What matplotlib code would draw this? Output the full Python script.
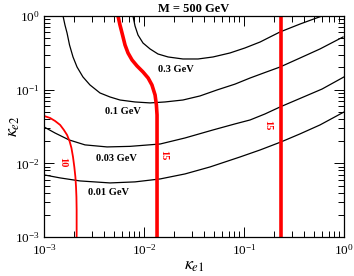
import matplotlib
matplotlib.use("Agg")
import matplotlib.pyplot as plt

# contour values (kappa_e1, kappa_e2)
c001_x = [1.0e-3, 1.45e-3, 2.29e-3, 4.57e-3, 8.13e-3, 1.45e-2, 2.57e-2, 4.57e-2,
          9.12e-2, 0.145, 0.234, 0.363, 0.575, 1.0]
c001_y = [6.97e-3, 6.34e-3, 5.77e-3, 5.42e-3, 5.60e-3, 6.14e-3, 7.18e-3, 8.93e-3,
          1.22e-2, 1.52e-2, 1.95e-2, 2.51e-2, 3.32e-2, 4.98e-2]

c003_x = [1.0e-3, 1.29e-3, 1.78e-3, 2.57e-3, 4.27e-3, 7.24e-3, 1.45e-2, 2.57e-2,
          4.90e-2, 8.13e-2, 0.115, 0.162, 0.229, 0.363, 0.603, 1.0]
c003_y = [3.12e-2, 2.58e-2, 2.08e-2, 1.78e-2, 1.67e-2, 1.70e-2, 1.83e-2, 2.21e-2,
          2.84e-2, 3.43e-2, 3.88e-2, 4.68e-2, 5.82e-2, 7.60e-2, 0.102, 0.149]

c01_x = [1.55e-3, 1.62e-3, 1.70e-3, 1.80e-3, 1.95e-3, 2.14e-3, 2.45e-3, 2.88e-3,
         3.63e-3, 4.57e-3, 5.75e-3, 8.13e-3, 1.15e-2, 1.62e-2, 2.45e-2, 3.63e-2,
         5.37e-2, 8.13e-2, 0.115, 0.162, 0.229, 0.363, 0.575, 0.977]
c01_y = [1.0, 0.755, 0.588, 0.404, 0.278, 0.203, 0.149, 0.116,
         9.02e-2, 7.96e-2, 7.24e-2, 6.81e-2, 6.61e-2, 6.81e-2, 7.24e-2, 8.22e-2,
         9.91e-2, 0.119, 0.144, 0.171, 0.203, 0.269, 0.357, 0.519]

c03_x = [7.76e-3, 8.13e-3, 8.71e-3, 9.77e-3, 1.15e-2, 1.38e-2, 1.74e-2, 2.45e-2,
         3.47e-2, 4.90e-2, 7.24e-2, 0.102, 0.145, 0.182, 0.229, 0.288, 0.363,
         0.468, 0.603]
c03_y = [1.0, 0.732, 0.552, 0.430, 0.357, 0.305, 0.278, 0.261,
         0.261, 0.278, 0.315, 0.368, 0.444, 0.519, 0.607, 0.687, 0.778,
         0.883, 1.0]

# red curves
r10_x = [1.0e-3, 1.15e-3, 1.29e-3, 1.45e-3, 1.58e-3, 1.70e-3, 1.80e-3, 1.88e-3,
         1.95e-3, 2.01e-3, 2.06e-3, 2.09e-3, 2.11e-3, 2.12e-3, 2.12e-3]
r10_y = [4.40e-2, 4.13e-2, 3.76e-2, 3.32e-2, 2.84e-2, 2.43e-2, 2.01e-2, 1.62e-2,
         1.22e-2, 8.93e-3, 6.53e-3, 4.79e-3, 3.50e-3, 2.33e-3, 1.0e-3]

r15a_x = [5.50e-3, 5.75e-3, 6.10e-3, 6.46e-3, 6.92e-3, 7.59e-3, 8.51e-3, 9.77e-3,
          1.10e-2, 1.20e-2, 1.29e-2, 1.33e-2, 1.35e-2, 1.35e-2]
r15a_y = [1.0, 0.755, 0.552, 0.404, 0.315, 0.253, 0.210, 0.174,
          0.144, 0.116, 8.48e-2, 6.20e-2, 4.54e-2, 1.0e-3]

r15b_x = [0.234, 0.234]
r15b_y = [1.0e-3, 1.0]

plt.rcParams['font.family'] = ['Liberation Serif', 'DejaVu Serif']
plt.rcParams['mathtext.fontset'] = 'stix'

fig = plt.figure(figsize=(3.54, 2.76), dpi=100)
ax = fig.add_axes([0.1243, 0.1413, 0.8475, 0.8007])

for xs, ys in [(c001_x, c001_y), (c003_x, c003_y), (c01_x, c01_y), (c03_x, c03_y)]:
    ax.plot(xs, ys, color='black', lw=0.9)

ax.plot(r10_x, r10_y, color='red', lw=1.3)
ax.plot(r15a_x, r15a_y, color='red', lw=2.6)
ax.plot(r15b_x, r15b_y, color='red', lw=2.6)

ax.set_xscale('log')
ax.set_yscale('log')
ax.set_xlim(1e-3, 1)
ax.set_ylim(1e-3, 1)

# contour labels
lab = dict(fontsize=7.5, fontweight='bold', ha='center', va='center')
ax.text(2.09e-2, 0.185, '0.3 GeV', **lab)
ax.text(6.17e-3, 0.0498, '0.1 GeV', **lab)
ax.text(5.25e-3, 0.0118, '0.03 GeV', **lab)
ax.text(4.37e-3, 3.96e-3, '0.01 GeV', **lab)
ax.text(1.55e-3, 0.01045, '10', color='red', rotation=-90, **lab)
ax.text(1.58e-2, 0.013, '15', color='red', rotation=-90, **lab)
ax.text(0.174, 0.0332, '15', color='red', rotation=-90, **lab)

ax.set_title('M = 500 GeV', fontsize=9, fontweight='bold', pad=3)
ax.set_xlabel(r'$\kappa_{e1}$', fontsize=13, labelpad=0)
ax.set_ylabel(r'$\kappa_{e2}$', fontsize=13)
ax.yaxis.set_label_coords(-0.075, 0.5)

ax.tick_params(which='both', direction='in', top=True, right=True, labelsize=9.5, width=0.7)
ax.tick_params(axis='x', which='both', pad=4)
ax.tick_params(axis='y', which='both', pad=3)
ax.tick_params(which='major', length=7)
ax.tick_params(which='minor', length=4)
for s in ax.spines.values():
    s.set_linewidth(0.9)

fig.savefig('out.png', dpi=100)
